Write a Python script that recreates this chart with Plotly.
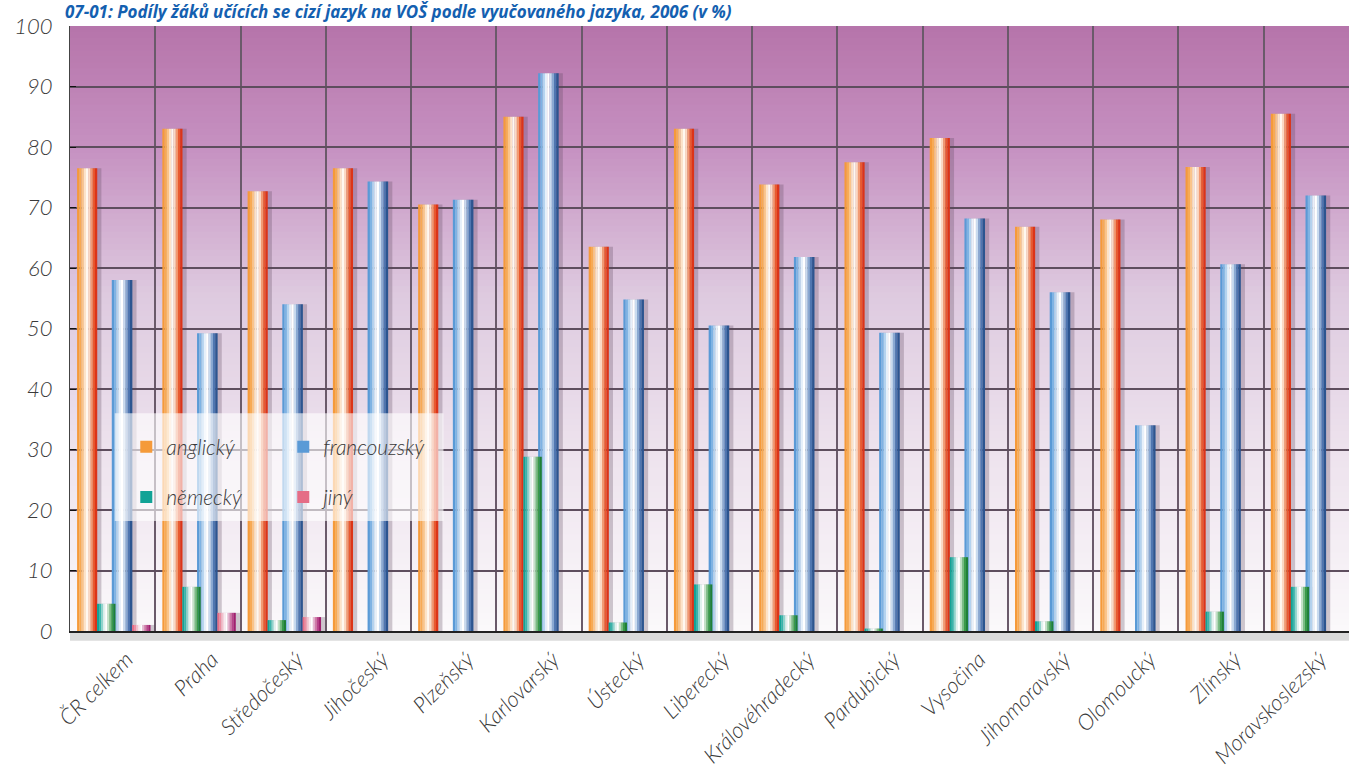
import plotly.graph_objects as go

# ---------------- data ----------------
regions = ["ČR celkem", "Praha", "Středočeský", "Jihočeský", "Plzeňský", "Karlovarský",
           "Ústecký", "Liberecký", "Královéhradecký", "Pardubický", "Vysočina",
           "Jihomoravský", "Olomoucký", "Zlínský", "Moravskoslezský"]
anglicky = [76.5, 83.0, 72.7, 76.5, 70.5, 85.0, 63.5, 83.0, 73.8, 77.5, 81.5, 66.8, 68.0, 76.7, 85.5]
nemecky = [4.5, 7.3, 1.8, 0.0, 0.0, 28.8, 1.4, 7.7, 2.6, 0.4, 12.2, 1.6, 0.0, 3.2, 7.3]
francouzsky = [58.0, 49.2, 54.0, 74.3, 71.3, 92.2, 54.8, 50.5, 61.8, 49.3, 68.2, 56.0, 34.0, 60.6, 72.0]
jiny = [1.0, 3.0, 2.3, 0.0, 0.0, 0.0, 0.0, 0.0, 0.0, 0.0, 0.0, 0.0, 0.0, 0.0, 0.0]
yticks = [0, 10, 20, 30, 40, 50, 60, 70, 80, 90, 100]
title_text = "07-01: Podíly žáků učících se cizí jazyk na VOŠ podle vyučovaného jazyka, 2006 (v %)"

# ---------------- styles ----------------
FONT = "Lato"
TXT = "#3a3a3a"
ORANGE = ['#f59a3a', '#f7aa55', '#fac48a', '#fde3c8', '#fff8f0', '#fbd9c4', '#f29a72', '#e85a30', '#dc3418']
BLUE = ['#5a9ad6', '#7fb3e3', '#b4d3ef', '#e6f0fa', '#ffffff', '#c9dbef', '#8aa9d2', '#4f76b0', '#2c5590']
GREEN = ['#12a396', '#3bb4aa', '#8fd4cc', '#e0f2ee', '#ffffff', '#c4e2c8', '#7bbd85', '#3a9a4a', '#1f7f36']
PINK = ['#e56d86', '#eb8ea2', '#f3c0cc', '#fbe8ee', '#ffffff', '#e6b6d0', '#cf7aa8', '#b8448a', '#a0206f']

# background gradient stops (value, rgb)
BG_STOPS = [(0, (251, 249, 251)), (10, (246, 241, 246)), (30, (237, 226, 237)),
            (55, (222, 203, 224)), (80, (198, 145, 193)), (100, (182, 116, 170))]

x = list(range(len(regions)))

series = [
    # name, values, colours, left-edge offset, width, legend
    ("anglický", anglicky, ORANGE, -0.417, 0.235, "legend"),
    ("francouzský", francouzsky, BLUE, -0.01, 0.24, "legend"),
    ("německý", nemecky, GREEN, -0.183, 0.215, "legend2"),
    ("jiný", jiny, PINK, 0.228, 0.215, "legend2"),
]

fig = go.Figure()

# shadows
for name, vals, cols, off, w, lg in series:
    fig.add_trace(go.Bar(x=x, y=vals, offset=off + 0.05, width=w,
                         marker=dict(color="rgba(90,70,90,0.28)", line=dict(width=0)),
                         showlegend=False, hoverinfo="skip", legendgroup=name, legend=lg))

# cylinder bars made of vertical stripes
for name, vals, cols, off, w, lg in series:
    n = len(cols)
    sw = w / n
    for i, c in enumerate(cols):
        fig.add_trace(go.Bar(x=x, y=vals, offset=off + i * sw, width=sw * 1.05,
                             marker=dict(color=c, line=dict(width=0)),
                             name=name, legendgroup=name, legend=lg,
                             showlegend=(i == 0), hovertemplate="%{y}<extra>" + name + "</extra>"))


def lerp(a, b, t):
    return tuple(int(round(a[k] + (b[k] - a[k]) * t)) for k in range(3))


shapes = []
for v in range(100):
    mid = v + 0.5
    for j in range(len(BG_STOPS) - 1):
        v0, c0 = BG_STOPS[j]
        v1, c1 = BG_STOPS[j + 1]
        if v0 <= mid <= v1:
            col = lerp(c0, c1, (mid - v0) / (v1 - v0))
            break
    shapes.append(dict(type="rect", xref="paper", yref="y", x0=0, x1=1, y0=v,
                       y1=min(v + 1.4, 100),
                       fillcolor="rgb(%d,%d,%d)" % col, line=dict(width=0), layer="below"))

# legend backdrop
shapes.append(dict(type="rect", xref="paper", yref="y", x0=0.035, x1=0.292, y0=18.2, y1=36,
                   fillcolor="rgba(255,255,255,0.62)", line=dict(width=0), layer="above"))
# shadow below x axis
shapes.append(dict(type="rect", xref="paper", yref="paper", x0=0.0, x1=1, y0=-0.016, y1=-0.002,
                   fillcolor="rgba(150,150,150,0.35)", line=dict(width=0), layer="below"))

fig.update_layout(
    width=1349, height=782,
    margin=dict(l=70, r=0, t=26, b=151, autoexpand=False),
    paper_bgcolor="white",
    plot_bgcolor="rgba(0,0,0,0)",
    barmode="overlay",
    shapes=shapes,
    font=dict(family=FONT, color=TXT, size=19),
    title=dict(text=title_text, x=65 / 1349, xanchor="left", xref="container",
               y=1 - 12 / 782, yref="container", yanchor="middle",
               font=dict(family="Open Sans", size=17, color="#1460b0", weight="bold", style="italic")),
    xaxis=dict(range=[-0.5, 14.5], tickvals=x, ticktext=regions, tickangle=-45,
               showgrid=False, zeroline=False, ticks="", automargin=False,
               ticklabelshift=14, ticklabelstandoff=5,
               showline=True, linecolor="#222", linewidth=2,
               tickfont=dict(family=FONT, size=22, color=TXT, style="italic", weight=300),
               minor=dict(tick0=-0.5, dtick=1, showgrid=True, gridcolor="#6a5a6a", gridwidth=1.5, ticks="")),
    yaxis=dict(range=[0, 100], tickvals=yticks, showgrid=True, gridcolor="#5e4e5e", gridwidth=1.5,
               zeroline=False, showline=True, linecolor="#444", linewidth=1, automargin=False,
               ticks="inside", ticklen=6, tickcolor="#111", ticklabelstandoff=12,
               tickfont=dict(family=FONT, size=22, color=TXT, style="italic", weight=300)),
    legend=dict(orientation="h", x=0.044, y=0.304, xanchor="left", yanchor="middle",
                bgcolor="rgba(0,0,0,0)", entrywidth=112, entrywidthmode="pixels",
                font=dict(family=FONT, size=21, color=TXT, style="italic", weight=300)),
    legend2=dict(orientation="h", x=0.044, y=0.221, xanchor="left", yanchor="middle",
                 bgcolor="rgba(0,0,0,0)", entrywidth=112, entrywidthmode="pixels",
                 font=dict(family=FONT, size=21, color=TXT, style="italic", weight=300)),
)

fig.write_html("out.html", config={"displayModeBar": False},
               post_script="document.body.style.margin='0';")
